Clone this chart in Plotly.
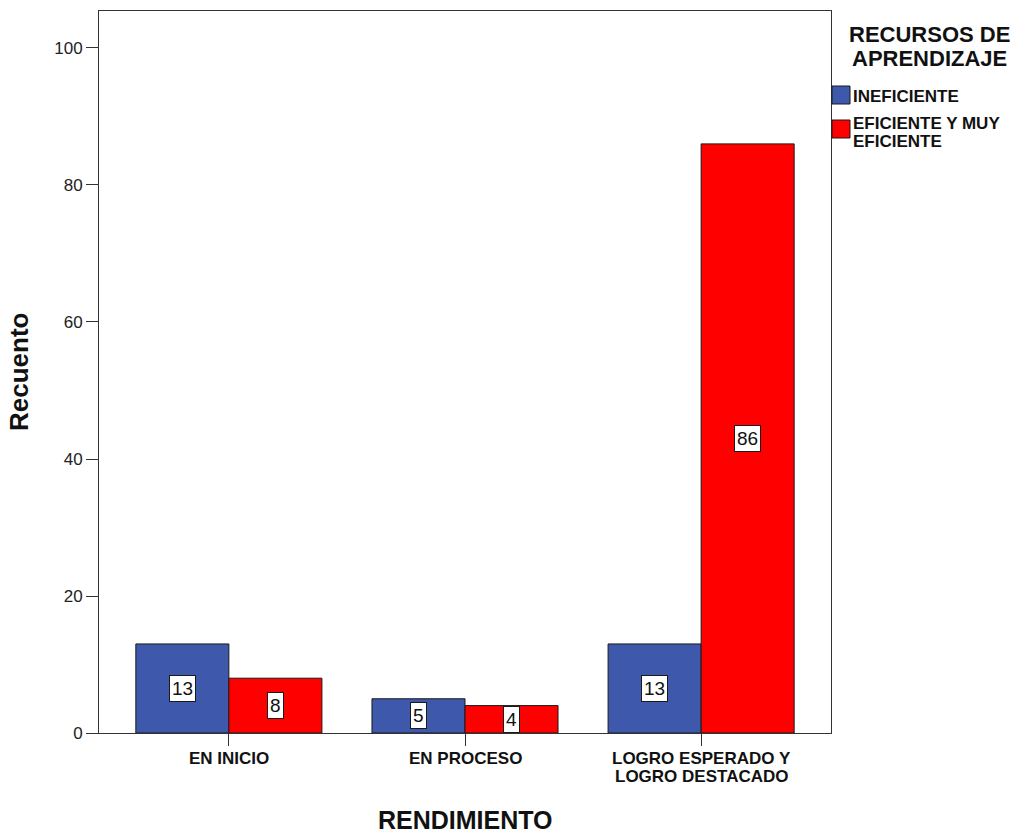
import plotly.graph_objects as go

categories = ["EN INICIO", "EN PROCESO", "LOGRO ESPERADO Y<br>LOGRO DESTACADO"]
series_names = ["INEFICIENTE", "EFICIENTE Y MUY<br>EFICIENTE"]
ineficiente = [13, 5, 13]
eficiente = [8, 4, 86]
y_ticks = [0, 20, 40, 60, 80, 100]
legend_title = ["RECURSOS DE", "APRENDIZAJE"]

FONT = "Liberation Sans, Arial, sans-serif"
INK = "#111111"
colors = ["#3E58AC", "#FF0000"]
bar_w = 0.394
xpos = list(range(len(categories)))

fig = go.Figure()
for k, (name, vals) in enumerate(zip(series_names, [ineficiente, eficiente])):
    fig.add_trace(go.Bar(
        x=xpos, y=vals, name=name, showlegend=False,
        width=bar_w, offset=-bar_w if k == 0 else 0,
        marker=dict(color=colors[k], line=dict(color="#1a1a1a", width=1)),
    ))
    # boxed value labels at the middle of each bar
    for i, v in enumerate(vals):
        cx = i - bar_w / 2 if k == 0 else i + bar_w / 2
        fig.add_annotation(
            x=cx, y=v / 2, text=str(v), showarrow=False,
            font=dict(family=FONT, size=19, color=INK),
            bgcolor="white", bordercolor="#1a1a1a", borderwidth=1, borderpad=2,
        )

# category labels under the axis, lines set close together
for i, cat in enumerate(categories):
    for j, line in enumerate(cat.split("<br>")):
        fig.add_annotation(
            x=i, xref="x", y=0, yref="paper", yanchor="middle",
            yshift=-25 - 18 * j, text=f"<b>{line}</b>", showarrow=False,
            font=dict(family=FONT, size=17, color=INK),
        )

# axis titles
fig.add_annotation(
    x=0.5, xref="paper", y=0, yref="paper", yanchor="middle", yshift=-87,
    text="<b>RENDIMIENTO</b>", showarrow=False,
    font=dict(family=FONT, size=25, color=INK),
)
fig.add_annotation(
    x=0, xref="paper", xanchor="center", xshift=-80, y=0.5, yref="paper",
    text="<b>Recuento</b>", textangle=-90, showarrow=False,
    font=dict(family=FONT, size=26, color=INK),
)

# legend block to the right of the plot
for j, line in enumerate(legend_title):
    fig.add_annotation(
        x=1.0, xref="paper", xanchor="center", xshift=98,
        y=1.0, yref="paper", yanchor="middle", yshift=-23 - 24 * j,
        text=f"<b>{line}</b>", showarrow=False,
        font=dict(family=FONT, size=22, color=INK),
    )
for k, name in enumerate(series_names):
    top = -75 - 34 * k
    fig.add_shape(
        type="rect", xref="paper", yref="paper",
        xsizemode="pixel", ysizemode="pixel", xanchor=1.0, yanchor=1.0,
        x0=1, x1=19, y0=top, y1=top - 18,
        fillcolor=colors[k], line=dict(color="#1a1a1a", width=1),
    )
    lines = name.split("<br>")
    first = top - 10 if len(lines) == 1 else top - 3
    for j, line in enumerate(lines):
        fig.add_annotation(
            x=1.0, xref="paper", xanchor="left", xshift=20,
            y=1.0, yref="paper", yanchor="middle", yshift=first - 18 * j,
            text=f"<b>{line}</b>", showarrow=False,
            font=dict(family=FONT, size=17, color=INK),
        )

fig.update_layout(
    width=1020, height=834,
    margin=dict(l=99, r=189, t=11, b=101),
    paper_bgcolor="white", plot_bgcolor="white",
    barmode="group", showlegend=False,
    xaxis=dict(
        range=[-0.55, 2.55], tickvals=xpos, ticktext=[""] * len(xpos),
        ticks="outside", ticklen=12, tickcolor="#333333",
        showline=True, linecolor="#333333", linewidth=1, mirror=True,
        showgrid=False, zeroline=False,
    ),
    yaxis=dict(
        range=[0, 105.4], tickvals=y_ticks,
        ticks="outside", ticklen=12, tickcolor="#333333",
        showline=True, linecolor="#333333", linewidth=1, mirror=True,
        showgrid=False, zeroline=False,
        tickfont=dict(family=FONT, size=17, color="#222222"),
    ),
)

fig.write_html("out.html")
